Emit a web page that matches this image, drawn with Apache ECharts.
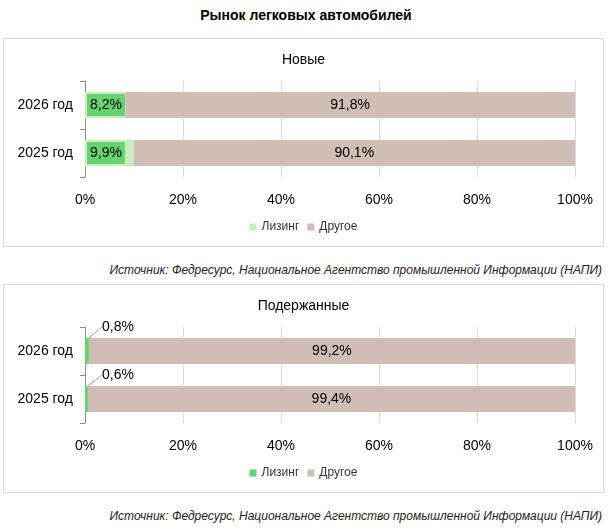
<!DOCTYPE html>
<html>
<head>
<meta charset="utf-8">
<script src="https://cdn.jsdelivr.net/npm/echarts@6/dist/echarts.min.js"></script>
<style>
    body { margin: 0; padding: 0; width: 612px; height: 530px; position: relative; background: #fff; font-family: "Liberation Sans", Arial, sans-serif; }
    #title { position: absolute; top: 7px; left: 0; width: 612px; text-align: center; font-weight: bold; font-size: 14px; }
    .panel { position: absolute; left: 3px; width: 599px; height: 207px; border: 1px solid #d9d9d9; }
    .src { position: absolute; right: 10px; font-size: 12px; font-style: italic; color: #222; }
</style>
</head>
<body>
<div id="title">Рынок легковых автомобилей</div>
<div class="panel" id="c1" style="top:38px"></div>
<div class="src" style="top:263px">Источник: Федресурс, Национальное Агентство промышленной Информации (НАПИ)</div>
<div class="panel" id="c2" style="top:284px"></div>
<div class="src" style="top:509px">Источник: Федресурс, Национальное Агентство промышленной Информации (НАПИ)</div>
<script>
    var years = ['2025 год', '2026 год'];
    var newLeasing = [9.9, 8.2];
    var newOther = [90.1, 91.8];
    var usedLeasing = [0.6, 0.8];
    var usedOther = [99.4, 99.2];
    var xTicks = [0, 20, 40, 60, 80, 100];

    const fmt = (v) => String(v).replace('.', ',') + '%';

    function makeChart(id, title, leasing, other, leasingColor, small) {
        var chart = echarts.init(document.getElementById(id));
        var leasingLabel = small ? {
            show: true, position: 'insideLeft', color: '#000', fontSize: 14,
            formatter: (p) => fmt(p.value)
        } : {
            show: true, position: 'insideLeft', color: '#000', fontSize: 14,
            backgroundColor: '#66d36e', padding: [4, 3], offset: [-3, 0],
            formatter: (p) => fmt(p.value)
        };
        chart.setOption({
            animation: false,
            textStyle: { fontFamily: 'Liberation Sans' },
            title: { text: title, left: 'center', top: 9, textStyle: { fontSize: 14, fontWeight: 'normal', color: '#000' } },
            legend: {
                bottom: 8, left: 'center', itemWidth: 7, itemHeight: 7, icon: 'rect',
                textStyle: { fontSize: 12, color: '#333' },
                data: ['Лизинг', 'Другое']
            },
            grid: { left: 81, right: 28, top: 42, height: 96 },
            xAxis: {
                type: 'value', min: 0, max: 100, interval: 20,
                axisLabel: { formatter: '{value}%', fontSize: 14, color: '#000', margin: 16 },
                splitLine: { lineStyle: { color: '#d9d9d9' } },
                axisLine: { show: false }, axisTick: { show: false }
            },
            yAxis: {
                type: 'category', data: years,
                axisLine: { lineStyle: { color: '#888' } },
                axisTick: { show: true, length: 5, lineStyle: { color: '#888' } },
                axisLabel: { fontSize: 14, color: '#000', margin: 12 }
            },
            series: [{
                name: 'Лизинг', type: 'bar', stack: 's', barWidth: 26,
                itemStyle: { color: leasingColor },
                data: leasing,
                label: leasingLabel,
                labelLayout: small ? { dx: 12, dy: -24 } : undefined,
                labelLine: small ? { show: true, lineStyle: { color: '#999' } } : undefined
            }, {
                name: 'Другое', type: 'bar', stack: 's', barWidth: 26,
                itemStyle: { color: '#d0bdb5' },
                data: other,
                label: { show: true, position: 'inside', color: '#000', fontSize: 14, formatter: (p) => fmt(p.value) }
            }]
        });
    }

    makeChart('c1', 'Новые', newLeasing, newOther, '#c6efc0', false);
    makeChart('c2', 'Подержанные', usedLeasing, usedOther, '#66d36e', true);
</script>
</body>
</html>
